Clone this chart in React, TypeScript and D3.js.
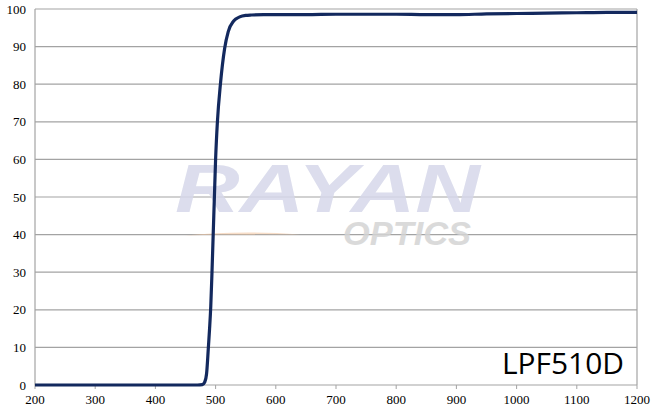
import React from "react";
import * as d3 from "d3";

const wavelengths = [200, 300, 400, 450, 470, 478, 482, 485, 488, 490, 492, 494, 496, 498, 500, 503, 508, 515, 521, 530, 540, 550, 560, 580, 600, 650, 700, 750, 800, 850, 900, 950, 1000, 1050, 1100, 1150, 1200];
const transmission = [0, 0, 0, 0, 0, 0.1, 0.8, 3, 10, 15, 21, 30, 40, 50, 60, 70, 80, 89.5, 94, 96.8, 97.9, 98.3, 98.4, 98.5, 98.5, 98.5, 98.6, 98.6, 98.6, 98.5, 98.5, 98.7, 98.8, 98.9, 99.0, 99.1, 99.1];
const xTicks = [200, 300, 400, 500, 600, 700, 800, 900, 1000, 1100, 1200];
const yTicks = [0, 10, 20, 30, 40, 50, 60, 70, 80, 90, 100];
const label = "LPF510D";

export default function App() {
  const W = 655, H = 412;
  const left = 35, right = 637, top = 9, bottom = 385;
  const x = d3.scaleLinear().domain([200, 1200]).range([left, right]);
  const y = d3.scaleLinear().domain([0, 100]).range([bottom, top]);
  const line = d3.line<number>()
    .x((_, i) => x(wavelengths[i]))
    .y((d) => y(d))
    .curve(d3.curveMonotoneX);
  const grid = "#a3a3a3";
  const serifStyle = { fontFamily: "'Liberation Serif', 'DejaVu Serif', serif" };
  return (
    <svg width={W} height={H} style={{ position: "absolute", left: 0, top: 0, background: "#fff" }}>
      {yTicks.map((t) => (
        <line key={"g" + t} x1={left} x2={right} y1={y(t)} y2={y(t)} stroke={grid} strokeWidth={1.2} />
      ))}
      <line x1={left} x2={left} y1={top} y2={bottom} stroke={grid} strokeWidth={1.2} />
      <line x1={right} x2={right} y1={top} y2={bottom} stroke={grid} strokeWidth={1.2} />
      {xTicks.map((t) => (
        <line key={"t" + t} x1={x(t)} x2={x(t)} y1={bottom} y2={bottom + 4} stroke={grid} strokeWidth={1} />
      ))}
      {/* watermark */}
      <g>
        <path d="M 185 235.5 Q 240 230 300 234.5 Q 240 233.5 185 235.5 Z" fill="#f2c6a2" opacity={0.6} />
        <text x={175} y={212} style={{ fontFamily: "'Liberation Sans', Arial, sans-serif" }} fontWeight="bold" fontStyle="italic" fontSize={68} fill="#d6d8ea" opacity={0.85} textLength={305} lengthAdjust="spacingAndGlyphs">RAYAN</text>
        <text x={343} y={245} style={{ fontFamily: "'Liberation Sans', Arial, sans-serif" }} fontWeight="bold" fontStyle="italic" fontSize={34} fill="#d4d4d4" opacity={0.85} textLength={128} lengthAdjust="spacingAndGlyphs">OPTICS</text>
      </g>
      <path d={line(transmission) || ""} fill="none" stroke="#13295e" strokeWidth={3.2} strokeLinejoin="round" />
      {yTicks.map((t) => (
        <text key={"yl" + t} x={26} y={y(t)} dy="0.35em" textAnchor="end" style={serifStyle} fontSize={13} fill="#000">{t}</text>
      ))}
      {xTicks.map((t) => (
        <text key={"xl" + t} x={x(t)} y={404} textAnchor="middle" style={serifStyle} fontSize={13} fill="#000">{t}</text>
      ))}
      <text x={624} y={373.5} textAnchor="end" style={{ fontFamily: "'Open Sans', 'Noto Sans', sans-serif" }} fontSize={29} fill="#000" textLength={122} lengthAdjust="spacingAndGlyphs">{label}</text>
    </svg>
  );
}
